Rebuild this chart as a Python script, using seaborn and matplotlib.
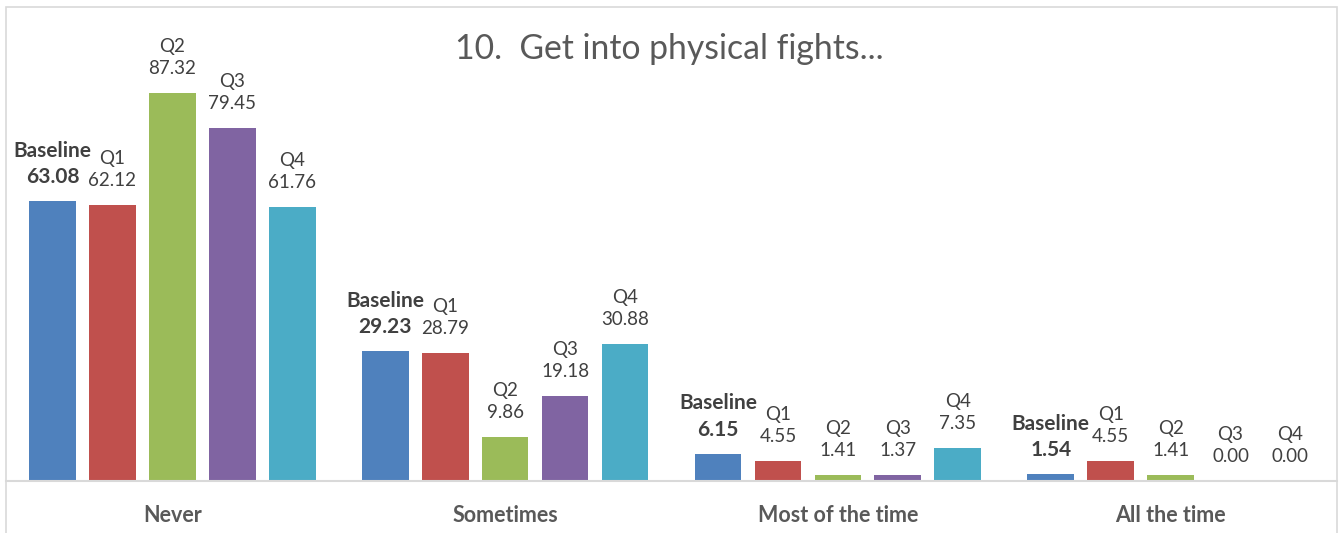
import matplotlib
matplotlib.use("Agg")
import matplotlib.pyplot as plt
import seaborn as sns
import pandas as pd
from matplotlib.patches import Rectangle

categories = ["Never", "Sometimes", "Most of the time", "All the time"]
series = ["Baseline", "Q1", "Q2", "Q3", "Q4"]
baseline = [63.08, 29.23, 6.15, 1.54]
q1 = [62.12, 28.79, 4.55, 4.55]
q2 = [87.32, 9.86, 1.41, 1.41]
q3 = [79.45, 19.18, 1.37, 0.00]
q4 = [61.76, 30.88, 7.35, 0.00]
colors = ["#4F81BD", "#C0504D", "#9BBB59", "#8064A2", "#4BACC6"]
title = "10.  Get into physical fights..."

values = [baseline, q1, q2, q3, q4]
rows = []
for s, vals in zip(series, values):
    for c, v in zip(categories, vals):
        rows.append({"category": c, "series": s, "value": v})
df = pd.DataFrame(rows)

sns.set_theme(style="white")
plt.rcParams["font.family"] = ["Lato", "DejaVu Sans"]

W, H = 1339, 533
fig = plt.figure(figsize=(W / 100, H / 100), dpi=100)
fig.patch.set_facecolor("white")
ax = fig.add_axes([6 / W, (H - 481) / H, (1337 - 6) / W, (481 - 37) / H])
sns.barplot(data=df, x="category", y="value", hue="series", order=categories,
            hue_order=series, palette=colors, width=0.9, gap=0.22, ax=ax,
            legend=False, edgecolor="none", errorbar=None, saturation=1)
ax.set_xlim(-0.5, 3.5)
ax.set_ylim(0, 100)
ax.set_xlabel("")
ax.set_ylabel("")
ax.set_yticks([])
for sp in ["top", "left", "right"]:
    ax.spines[sp].set_visible(False)
ax.spines["bottom"].set_color("#d9d9d9")
ax.spines["bottom"].set_linewidth(1.5)
ax.tick_params(axis="x", length=0, pad=17)
for lbl in ax.get_xticklabels():
    lbl.set_fontweight("bold")
    lbl.set_fontsize(15.5)
    lbl.set_color("#595959")

for s, cont, vals in zip(series, ax.containers, values):
    bold = s == "Baseline"
    for bar, v in zip(cont, vals):
        x = bar.get_x() + bar.get_width() / 2
        h = bar.get_height()
        ax.annotate(f"{s}\n{v:.2f}", xy=(x, h), xytext=(0, 18 if bold else 19),
                    textcoords="offset pixels", ha="center", va="baseline",
                    fontsize=15 if bold else 13.5, color="#404040",
                    linespacing=1.4 if bold else 1.36,
                    fontweight="bold" if bold else "normal")

fig.text(0.5, 1 - 49 / H, title, ha="center", va="center", fontsize=24.3,
         color="#595959")

fig.patches.append(Rectangle((6 / W, -0.1), (1337 - 6) / W, (H - 7) / H + 0.1,
                             transform=fig.transFigure, fill=False,
                             edgecolor="#d9d9d9", lw=1.2))

fig.savefig("out.png", dpi=100, facecolor="white")
